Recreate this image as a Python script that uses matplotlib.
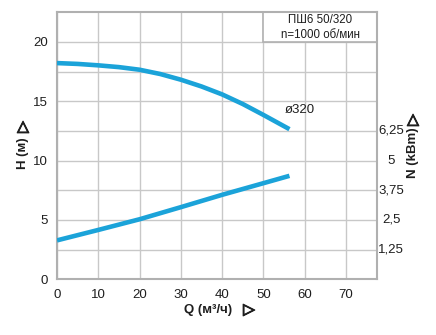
import matplotlib
matplotlib.use("Agg")
import matplotlib.pyplot as plt
from matplotlib.patches import Rectangle
import matplotlib.patheffects as pe

plt.rcParams['font.family'] = ['Liberation Sans', 'DejaVu Sans']

# Data
q_h = [0, 5, 10, 15, 20, 25, 30, 35, 40, 45, 50, 56.3]
h_vals = [18.22, 18.15, 18.03, 17.88, 17.66, 17.3, 16.82, 16.25, 15.58, 14.77, 13.85, 12.65]
q_n = [0, 10, 20, 30, 40, 50, 56.3]
n_vals = [1.64, 2.08, 2.53, 3.04, 3.56, 4.05, 4.36]

x_ticks = [0, 10, 20, 30, 40, 50, 60, 70]
h_ticks = [0, 5, 10, 15, 20]
n_ticks = [1.25, 2.5, 3.75, 5, 6.25]
n_tick_labels = ["1,25", "2,5", "3,75", "5", "6,25"]

title_lines = ["ПШ6 50/320", "n=1000 об/мин"]
curve_label = "ø320"

line_color = "#1ba3d9"
grid_color = "#c8c8c8"
spine_color = "#b0b0b0"
text_color = "#1e1e1e"

W, H = 436, 335
fig = plt.figure(figsize=(W / 100, H / 100), dpi=100)
l, r, t, b = 57, 377, 12.3, 279.3
ax = fig.add_axes([l / W, 1 - b / H, (r - l) / W, (b - t) / H])

ax.set_xlim(0, 77.5)
ax.set_ylim(0, 22.5)
ax.set_xticks(x_ticks)
ax.set_yticks(h_ticks)
ax.set_yticks([2.5, 7.5, 12.5, 17.5], minor=True)
ax.tick_params(which='both', length=0)
ax.tick_params(axis='x', pad=7, labelsize=9.5, colors=text_color)
ax.tick_params(axis='y', pad=6.5, labelsize=9.5, colors=text_color)
ax.grid(True, which='both', color=grid_color, linewidth=1.0, zorder=1)
ax.set_axisbelow(True)
for s in ax.spines.values():
    s.set_color(spine_color)
    s.set_linewidth(1.5)

ax.plot(q_h, h_vals, color=line_color, linewidth=3.3, solid_capstyle='butt',
        solid_joinstyle='round', zorder=3)

ax2 = ax.twinx()
ax2.set_ylim(0, 11.25)
ax2.set_yticks([])
for s in ax2.spines.values():
    s.set_visible(False)
ax2.plot(q_n, n_vals, color=line_color, linewidth=3.3, solid_capstyle='butt',
         solid_joinstyle='round', zorder=3)

for v, lab in zip(n_ticks, n_tick_labels):
    ax2.text(1.044, v, lab, transform=ax2.get_yaxis_transform(), ha='center',
             va='center', fontsize=9.5, color=text_color)

# box
rect = Rectangle((50, 20), 27.5, 2.5, facecolor='white', edgecolor=spine_color,
                 linewidth=1.2, zorder=2.5, clip_on=False)
ax.add_patch(rect)
ax.text(63.75, 21.2, "\n".join(title_lines), ha='center', va='center',
        fontsize=8.3, linespacing=1.3, color=text_color, zorder=4)

ax.text(55.2, 14.3, curve_label, ha='left', va='center', fontsize=9.5,
        color=text_color, zorder=4)

thick = [pe.withStroke(linewidth=0.8, foreground=text_color)]
fig.text(208 / W, 1 - 310 / H, "Q (м³/ч)", ha='center', va='center',
         fontsize=9.5, fontweight='bold', color=text_color)
fig.text(249 / W, 1 - 310 / H, "▷", ha='center', va='center',
         fontsize=11, fontweight='bold', color=text_color, path_effects=thick)
fig.text(23 / W, 1 - 153 / H, "H (м)", ha='center', va='center',
         fontsize=9.5, fontweight='bold', rotation=90, color=text_color)
fig.text(23 / W, 1 - 127 / H, "▷", ha='center', va='center',
         fontsize=11, fontweight='bold', rotation=90, color=text_color, path_effects=thick)
fig.text(413 / W, 1 - 153 / H, "N (kBm)", ha='center', va='center',
         fontsize=9.5, fontweight='bold', rotation=90, color=text_color)
fig.text(413 / W, 1 - 120 / H, "▷", ha='center', va='center',
         fontsize=11, fontweight='bold', rotation=90, color=text_color, path_effects=thick)

fig.savefig("out.png", dpi=100, facecolor='white')
